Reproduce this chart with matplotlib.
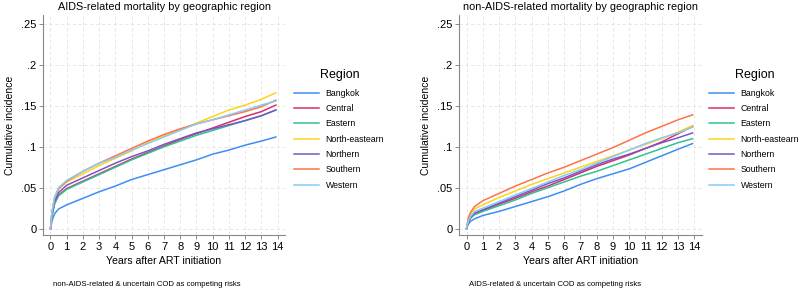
import numpy as np
import matplotlib
matplotlib.use("Agg")
import matplotlib.pyplot as plt

plt.rcParams['font.family'] = ['Liberation Sans', 'DejaVu Sans']

# time points (years after ART initiation)
years = [0, 0.1, 0.25, 0.5, 1, 2, 3, 4, 5, 6, 7, 8, 9, 10, 11, 12, 13, 13.9]

regions = ['Bangkok', 'Central', 'Eastern', 'North-eastearn', 'Northern', 'Southern', 'Western']
colors = ['#3d8ef0', '#d62f6a', '#2fc48d', '#ffd31c', '#7b55c8', '#ff7248', '#86ccf7']

# AIDS-related mortality (non-AIDS-related & uncertain COD as competing risks)
aids_bangkok = [0, 0.010, 0.018, 0.024, 0.029, 0.037, 0.045, 0.052, 0.060, 0.066, 0.072, 0.078, 0.084, 0.091, 0.096, 0.102, 0.107, 0.112]
aids_central = [0, 0.017, 0.031, 0.041, 0.049, 0.058, 0.067, 0.076, 0.085, 0.093, 0.101, 0.109, 0.116, 0.123, 0.130, 0.137, 0.143, 0.151]
aids_eastern = [0, 0.016, 0.030, 0.040, 0.048, 0.057, 0.066, 0.075, 0.084, 0.092, 0.100, 0.107, 0.114, 0.120, 0.126, 0.132, 0.138, 0.145]
aids_northeast = [0, 0.020, 0.036, 0.048, 0.057, 0.067, 0.077, 0.086, 0.095, 0.105, 0.113, 0.121, 0.129, 0.137, 0.145, 0.151, 0.158, 0.166]
aids_northern = [0, 0.018, 0.033, 0.044, 0.053, 0.062, 0.071, 0.080, 0.088, 0.095, 0.103, 0.110, 0.117, 0.122, 0.127, 0.132, 0.138, 0.145]
aids_southern = [0, 0.021, 0.038, 0.049, 0.058, 0.070, 0.080, 0.089, 0.098, 0.107, 0.115, 0.122, 0.128, 0.133, 0.138, 0.143, 0.149, 0.157]
aids_western = [0, 0.021, 0.038, 0.050, 0.059, 0.070, 0.080, 0.087, 0.096, 0.104, 0.112, 0.120, 0.128, 0.133, 0.139, 0.145, 0.151, 0.156]

# non-AIDS-related mortality (AIDS-related & uncertain COD as competing risks)
non_bangkok = [0, 0.005, 0.009, 0.012, 0.016, 0.021, 0.027, 0.033, 0.039, 0.046, 0.054, 0.061, 0.067, 0.073, 0.081, 0.089, 0.097, 0.104]
non_central = [0, 0.008, 0.013, 0.018, 0.022, 0.030, 0.037, 0.045, 0.052, 0.060, 0.068, 0.076, 0.083, 0.090, 0.098, 0.106, 0.116, 0.125]
non_eastern = [0, 0.008, 0.013, 0.017, 0.021, 0.028, 0.035, 0.043, 0.050, 0.057, 0.064, 0.070, 0.077, 0.084, 0.091, 0.098, 0.105, 0.110]
non_northeast = [0, 0.011, 0.018, 0.024, 0.029, 0.038, 0.046, 0.054, 0.061, 0.068, 0.075, 0.082, 0.089, 0.096, 0.103, 0.110, 0.118, 0.126]
non_northern = [0, 0.008, 0.014, 0.019, 0.023, 0.031, 0.039, 0.047, 0.055, 0.062, 0.070, 0.078, 0.085, 0.091, 0.098, 0.105, 0.111, 0.117]
non_southern = [0, 0.012, 0.020, 0.027, 0.034, 0.043, 0.052, 0.060, 0.068, 0.075, 0.083, 0.091, 0.099, 0.108, 0.117, 0.125, 0.133, 0.139]
non_western = [0, 0.009, 0.015, 0.021, 0.025, 0.033, 0.041, 0.049, 0.057, 0.065, 0.072, 0.080, 0.088, 0.096, 0.104, 0.111, 0.117, 0.124]

aids_series = [aids_bangkok, aids_central, aids_eastern, aids_northeast, aids_northern, aids_southern, aids_western]
non_series = [non_bangkok, non_central, non_eastern, non_northeast, non_northern, non_southern, non_western]

x_ticks = list(range(0, 15))
y_ticks = [0, 0.05, 0.1, 0.15, 0.2, 0.25]
y_tick_labels = ['0', '.05', '.1', '.15', '.2', '.25']


def draw_panel(ax, series, title, note, legend_x, title_x):
    for vals, name, col in zip(series, regions, colors):
        ax.plot(years, vals, color=col, lw=1.1, label=name)
    ax.set_xlim(-0.45, 14.45)
    ax.set_ylim(-0.008, 0.261)
    ax.set_xticks(x_ticks)
    ax.set_yticks(y_ticks)
    ax.set_yticklabels(y_tick_labels)
    ax.tick_params(labelsize=8, length=3, color='#777777', width=0.6, pad=2)
    ax.grid(True, color='#e3e3e3', ls=(0, (4, 3)), lw=0.6)
    ax.set_axisbelow(True)
    for s in ['top', 'right']:
        ax.spines[s].set_visible(False)
    for s in ['left', 'bottom']:
        ax.spines[s].set_color('#888888')
        ax.spines[s].set_linewidth(0.8)
    ax.set_title(title, fontsize=7.8, pad=4)
    ax.set_xlabel('Years after ART initiation', fontsize=7.6, labelpad=3)
    ax.set_ylabel('Cumulative incidence', fontsize=7.5, labelpad=4)
    ax.text(0.04, -0.223, note, transform=ax.transAxes, fontsize=5.6, va='center')
    # legend title drawn separately so the gap to the entries matches
    ax.text(title_x, 0.727, 'Region', transform=ax.transAxes, fontsize=9,
            ha='center', va='center')
    leg = ax.legend(loc='upper left', bbox_to_anchor=(legend_x, 0.665), frameon=False,
                    fontsize=6.3, borderpad=0, borderaxespad=0,
                    handlelength=2.8, handletextpad=0.8, labelspacing=0.72)
    for h in leg.get_lines():
        h.set_linewidth(1.1)


fig = plt.figure(figsize=(8, 2.91), dpi=100)
ax1 = fig.add_axes([0.054, 0.192, 0.302, 0.756])
ax2 = fig.add_axes([0.574, 0.192, 0.303, 0.756])

draw_panel(ax1, aids_series, 'AIDS-related mortality by geographic region',
           'non-AIDS-related & uncertain COD as competing risks', 1.039, 1.229)
draw_panel(ax2, non_series, 'non-AIDS-related mortality by geographic region',
           'AIDS-related & uncertain COD as competing risks', 1.031, 1.220)

fig.savefig('out.png', dpi=100)
